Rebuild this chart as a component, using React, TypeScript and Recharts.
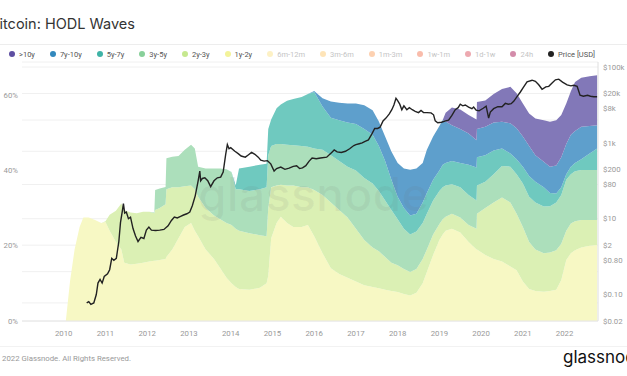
import { ComposedChart, Area, Line, XAxis, YAxis, CartesianGrid } from 'recharts'

// HODL wave sample dates (decimal years) and band shares (% of supply)
const waveDates = [
  2010.05, 2010.15, 2010.26, 2010.38, 2010.47, 2010.6, 2010.75, 2010.9, 2011.0, 2011.1,
  2011.25, 2011.38, 2011.45, 2011.6, 2011.75, 2011.9, 2012.05, 2012.17, 2012.19, 2012.3,
  2012.44, 2012.46, 2012.6, 2012.75, 2012.9, 2013.05, 2013.14, 2013.22, 2013.4, 2013.6,
  2013.75, 2013.9, 2014.02, 2014.12, 2014.2, 2014.45, 2014.7, 2014.86, 2014.9, 2014.97,
  2015.1, 2015.2, 2015.35, 2015.5, 2015.7, 2015.85, 2016.0, 2016.2, 2016.4, 2016.6,
  2016.8, 2017.0, 2017.2, 2017.4, 2017.55, 2017.7, 2017.85, 2018.0, 2018.15, 2018.3,
  2018.45, 2018.6, 2018.7, 2018.85, 2019.0, 2019.08, 2019.15, 2019.3, 2019.5, 2019.7,
  2019.89, 2019.9, 2020.1, 2020.3, 2020.5, 2020.7, 2020.85, 2021.0, 2021.15, 2021.3,
  2021.5, 2021.65, 2021.8, 2021.92, 2022.04, 2022.15, 2022.25, 2022.4, 2022.6, 2022.78,
]
const y1to2 = [
  0, 10.5, 19, 25, 27.5, 27.5, 26.8, 26, 26.3, 24,
  21, 19, 15.5, 15, 15.2, 15.5, 15.8, 16, 16, 16.2,
  16.5, 17, 19, 22, 25, 26, 24, 22.5, 19, 16.5,
  14, 11.5, 10, 9, 8.5, 8.3, 8.8, 10, 12, 22,
  26, 27.7, 26, 25, 25, 25.5, 22.5, 18, 14, 12.5,
  11.5, 10.5, 9.5, 9, 8.7, 8.3, 8, 7.7, 7.2, 6.8,
  7.5, 10, 13, 17.5, 21.5, 23, 24, 24.5, 23.5, 21,
  19, 19, 17.5, 16.5, 15.8, 14.5, 13.5, 10.5, 8.5, 8,
  7.8, 8, 8.3, 10.9, 16.2, 18, 18.8, 19.5, 20, 20.2,
]
const y2to3 = [
  0, 0, 0, 0, 0, 0, 0, 0, 0.2, 4.2,
  8.3, 12.2, 14, 13.8, 13.4, 13.5, 13.2, 12.6, 13.5, 13.8,
  14.5, 18, 16.5, 13.5, 10.8, 10, 11, 10.5, 11, 11.5,
  13, 14.5, 15.5, 15.5, 15.5, 15, 14, 12.5, 18, 13.5,
  10, 8.5, 10, 11, 10.5, 10, 12.3, 15.5, 17.5, 17,
  16, 14, 12, 10.5, 9.8, 8.7, 7.5, 7.1, 6.6, 6.2,
  6.3, 6.5, 6, 5.5, 4.3, 4, 3.7, 4, 4, 4.5,
  5.5, 9.5, 12.5, 15, 17, 17, 15, 14.5, 12.5, 11,
  10.2, 10.2, 10.5, 9.6, 7.8, 7.9, 7.7, 7.3, 6.8, 6.6,
]
const y3to5 = [
  0, 0, 0, 0, 0, 0, 0, 0, 0, 0,
  0, 0, 0, 0, 0, 0, 0, 0.2, 5.3, 5.2,
  4.6, 8.2, 8.1, 8.3, 9.7, 10.8, 10.8, 8, 10.5, 12.5,
  13.5, 14.3, 14, 10.5, 11, 11.2, 12.2, 13, 14, 11,
  11, 10.8, 10.8, 10.7, 11, 10.8, 11, 12, 12.5, 13,
  13.5, 15.5, 16.5, 17, 16, 15, 14, 12.2, 10.7, 10,
  10, 9.5, 9.5, 9, 8.7, 8.5, 8.3, 7.8, 8, 8,
  7.5, 7.5, 7, 7.5, 8.4, 9.5, 10.5, 11.5, 12, 12.5,
  12.4, 12.3, 12.7, 13, 13.5, 13.1, 13.3, 13.3, 13.3, 13.3,
]
const y5to7 = [
  0, 0, 0, 0, 0, 0, 0, 0, 0, 0,
  0, 0, 0, 0, 0, 0, 0, 0, 0, 0,
  0, 0, 0, 0, 0, 0, 0, 0, 0, 0,
  0, 0, 0.1, 1, 5.5, 6.5, 6.5, 6.3, 7, 7,
  9.5, 10.5, 11.7, 12.3, 13, 14, 15, 11.5, 10, 10.8,
  11.7, 12.3, 13, 13, 12, 10.5, 8, 6, 5.5, 5,
  4.7, 5.5, 5.5, 5.5, 5.5, 6, 6, 6.2, 6.5, 8,
  8.8, 7.5, 7, 6.3, 4.6, 3.5, 4, 4.5, 5.5, 5.5,
  5.1, 3.5, 2.4, 2, 1.5, 2, 2.2, 2.9, 4.4, 5.7,
]
const y7to10 = [
  0, 0, 0, 0, 0, 0, 0, 0, 0, 0,
  0, 0, 0, 0, 0, 0, 0, 0, 0, 0,
  0, 0, 0, 0, 0, 0, 0, 0, 0, 0,
  0, 0, 0, 0, 0, 0, 0, 0, 0, 0,
  0, 0, 0, 0, 0, 0, 0.3, 2.2, 4.3, 4.7,
  5.1, 5.5, 6.3, 6.5, 6.5, 6.5, 7.5, 9, 10.5, 12.2,
  12, 10.5, 11.5, 11.5, 11.8, 11.9, 11, 9.5, 9, 8.3,
  7.2, 7.5, 7.6, 7.4, 7.1, 8, 8.2, 8, 8, 7,
  6.8, 7, 7.4, 8, 8, 8.5, 8.5, 8.6, 7.3, 6.2,
]
const over10 = [
  0, 0, 0, 0, 0, 0, 0, 0, 0, 0,
  0, 0, 0, 0, 0, 0, 0, 0, 0, 0,
  0, 0, 0, 0, 0, 0, 0, 0, 0, 0,
  0, 0, 0, 0, 0, 0, 0, 0, 0, 0,
  0, 0, 0, 0, 0, 0, 0, 0, 0, 0,
  0, 0, 0, 0, 0, 0, 0, 0, 0, 0,
  0, 0, 0, 0, 0, 0, 2.3, 4.7, 5.2, 4.9,
  5.5, 7.2, 7, 7.6, 8.7, 9.7, 9.3, 8.8, 8.6, 9.8,
  11, 11.9, 12, 11.2, 10.8, 11.5, 13, 13, 13.2, 13.3,
]

// BTC price [USD]
const priceDates = [
  2010.55, 2010.6, 2010.65, 2010.72, 2010.78, 2010.82, 2010.87, 2010.92, 2010.97, 2011.05,
  2011.1, 2011.15, 2011.2, 2011.26, 2011.32, 2011.36, 2011.4, 2011.43, 2011.46, 2011.5,
  2011.55, 2011.6, 2011.66, 2011.72, 2011.78, 2011.85, 2011.92, 2011.98, 2012.04, 2012.1,
  2012.2, 2012.3, 2012.4, 2012.5, 2012.58, 2012.65, 2012.72, 2012.8, 2012.87, 2012.95,
  2013.02, 2013.08, 2013.15, 2013.22, 2013.26, 2013.28, 2013.32, 2013.38, 2013.45, 2013.52,
  2013.6, 2013.68, 2013.76, 2013.82, 2013.88, 2013.92, 2013.96, 2014.0, 2014.1, 2014.18,
  2014.25, 2014.35, 2014.42, 2014.5, 2014.58, 2014.66, 2014.72, 2014.8, 2014.88, 2014.96,
  2015.04, 2015.1, 2015.2, 2015.3, 2015.4, 2015.5, 2015.58, 2015.65, 2015.72, 2015.8,
  2015.88, 2015.95, 2016.05, 2016.15, 2016.3, 2016.42, 2016.48, 2016.55, 2016.65, 2016.75,
  2016.85, 2016.95, 2017.0, 2017.08, 2017.15, 2017.22, 2017.3, 2017.38, 2017.45, 2017.52,
  2017.58, 2017.65, 2017.72, 2017.8, 2017.86, 2017.91, 2017.96, 2018.0, 2018.05, 2018.1,
  2018.15, 2018.22, 2018.28, 2018.35, 2018.42, 2018.5, 2018.56, 2018.62, 2018.7, 2018.8,
  2018.86, 2018.9, 2018.96, 2019.05, 2019.15, 2019.22, 2019.3, 2019.38, 2019.45, 2019.5,
  2019.56, 2019.62, 2019.7, 2019.78, 2019.82, 2019.88, 2019.95, 2020.05, 2020.12, 2020.18,
  2020.22, 2020.3, 2020.4, 2020.5, 2020.58, 2020.65, 2020.72, 2020.78, 2020.86, 2020.94,
  2021.0, 2021.1, 2021.22, 2021.3, 2021.38, 2021.46, 2021.55, 2021.62, 2021.7, 2021.78,
  2021.86, 2021.95, 2022.06, 2022.15, 2022.22, 2022.3, 2022.37, 2022.45, 2022.55, 2022.62,
  2022.7, 2022.78,
]
const priceUsd = [
  0.06, 0.065, 0.055, 0.06, 0.1, 0.2, 0.25, 0.2, 0.3, 0.35,
  0.45, 0.9, 0.8, 0.9, 2.5, 8, 15, 25, 14, 15,
  10, 11, 5.5, 3.5, 2.5, 3.2, 3, 5, 6, 5,
  4.9, 5, 5.2, 6.5, 9, 11, 10.5, 11.5, 12.5, 13.5,
  15, 22, 40, 100, 180, 100, 115, 120, 100, 70,
  100, 120, 125, 170, 500, 900, 700, 750, 600, 520,
  450, 420, 480, 560, 500, 420, 350, 330, 340, 280,
  180, 210, 230, 200, 215, 240, 250, 210, 220, 250,
  330, 400, 380, 400, 420, 560, 650, 580, 560, 600,
  700, 850, 900, 950, 1000, 1100, 1200, 1700, 2400, 2400,
  2600, 3800, 4500, 5800, 7500, 10000, 15000, 13000, 10500, 7500,
  9500, 7500, 8500, 7500, 6800, 6300, 7200, 6300, 6300, 6200,
  5500, 3800, 3400, 3500, 3800, 4000, 5300, 7500, 8500, 10500,
  9500, 10000, 8800, 8000, 8800, 7300, 7000, 8200, 9300, 4500,
  6500, 8000, 9000, 9000, 11000, 10500, 10800, 12500, 16600, 22000,
  28000, 41000, 45000, 42000, 34000, 26000, 30000, 31000, 38000, 46000,
  48000, 40000, 34000, 32000, 33000, 31000, 18000, 17000, 18000, 17000,
  16500, 16500,
]

const yearTicks = [2010, 2011, 2012, 2013, 2014, 2015, 2016, 2017, 2018, 2019, 2020, 2021, 2022]
const pctTicks = [0, 20, 40, 60]
const priceTicks = [0.02, 0.06, 0.1, 0.4, 0.8, 2, 6, 10, 40, 80, 200, 600, 1000, 4000, 8000, 20000, 60000, 100000]

// stacked bottom to top
const bands = [
  { key: 'y1to2', fill: '#f7f8c4' },
  { key: 'y2to3', fill: '#dbf0b4' },
  { key: 'y3to5', fill: '#acdfbb' },
  { key: 'y5to7', fill: '#6fc9bf' },
  { key: 'y7to10', fill: '#5e9fcc' },
  { key: 'over10', fill: '#8278b8' },
]

const legendItems = [
  { name: '>10y', color: '#5e4fa2', on: true },
  { name: '7y-10y', color: '#3288bd', on: true },
  { name: '5y-7y', color: '#3fb3a6', on: true },
  { name: '3y-5y', color: '#88d09a', on: true },
  { name: '2y-3y', color: '#c6e88f', on: true },
  { name: '1y-2y', color: '#f3f39a', on: true },
  { name: '6m-12m', color: '#fbe07f', on: false },
  { name: '3m-6m', color: '#fdc462', on: false },
  { name: '1m-3m', color: '#fb9a52', on: false },
  { name: '1w-1m', color: '#f26a45', on: false },
  { name: '1d-1w', color: '#d8404f', on: false },
  { name: '24h', color: '#9e0142', on: false },
  { name: 'Price [USD]', color: '#222222', on: true },
]

const waveData = waveDates.map((t, i) => ({
  t,
  y1to2: y1to2[i],
  y2to3: y2to3[i],
  y3to5: y3to5[i],
  y5to7: y5to7[i],
  y7to10: y7to10[i],
  over10: over10[i],
}))

const priceData = priceDates.map((t, i) => ({ t, price: priceUsd[i] }))

const fmtPrice = (v: number) => {
  if (v >= 1000) return `$${v / 1000}k`
  if (v < 1) return `$${v.toFixed(2)}`
  return `$${v}`
}

const small = 'Roboto, "Liberation Sans", sans-serif'
const tickStyle = { fill: '#999', fontSize: 7.8, fontFamily: small }

export default function App() {
  return (
    <div
      style={{
        position: 'fixed', left: 0, top: 0, width: 627, height: 376,
        background: '#fff', overflow: 'hidden', fontFamily: 'Inter, "Noto Sans", sans-serif',
      }}
    >
      <div style={{ position: 'absolute', left: -10, top: 15, fontSize: 14.5, color: '#333', whiteSpace: 'nowrap' }}>
        Bitcoin: HODL Waves
      </div>
      <div style={{ position: 'absolute', left: 0, right: 0, top: 44, height: 1, background: '#ededed' }} />

      <div
        style={{
          position: 'absolute', left: 9, top: 48, height: 12, display: 'flex', alignItems: 'center',
          gap: 15, fontSize: 7.5, fontFamily: small, whiteSpace: 'nowrap',
        }}
      >
        {legendItems.map((it) => (
          <div key={it.name} style={{ display: 'flex', alignItems: 'center', gap: 4 }}>
            <span
              style={{
                width: 6, height: 6, borderRadius: 3, background: it.color,
                opacity: it.on ? 1 : 0.45, display: 'inline-block',
              }}
            />
            <span style={{ color: it.on ? '#555' : '#c4c4c4' }}>{it.name}</span>
          </div>
        ))}
      </div>

      <div style={{ position: 'absolute', left: 0, top: 0 }}>
        <ComposedChart width={627} height={345} data={waveData} margin={{ top: 62, right: 0, bottom: 0, left: 0 }}>
          <CartesianGrid yAxisId="price" vertical={false} stroke="#f0f0f0" />
          <XAxis
            dataKey="t"
            type="number"
            domain={[2009.0, 2022.8]}
            allowDataOverflow
            ticks={yearTicks}
            tick={tickStyle}
            tickSize={0}
            tickMargin={9}
            height={24}
            axisLine={{ stroke: '#e6e6e6' }}
          />
          <YAxis
            yAxisId="pct"
            orientation="left"
            domain={[0, 68.8]}
            allowDataOverflow
            ticks={pctTicks}
            tickFormatter={(v) => `${v}%`}
            tick={tickStyle}
            tickSize={0}
            tickMargin={4}
            width={22}
            axisLine={false}
          />
          <YAxis
            yAxisId="price"
            orientation="right"
            scale="log"
            domain={[0.02, 136000]}
            allowDataOverflow
            ticks={priceTicks}
            tickFormatter={fmtPrice}
            tick={tickStyle}
            tickSize={0}
            tickMargin={5}
            width={29}
            axisLine={{ stroke: '#dedede' }}
          />
          {bands.map((b) => (
            <Area
              key={b.key}
              yAxisId="pct"
              dataKey={b.key}
              stackId="hodl"
              type="linear"
              stroke="none"
              fill={b.fill}
              fillOpacity={1}
              isAnimationActive={false}
              activeDot={false}
            />
          ))}
          <Line
            yAxisId="price"
            data={priceData}
            dataKey="price"
            type="linear"
            stroke="#222"
            strokeWidth={1.4}
            dot={false}
            activeDot={false}
            isAnimationActive={false}
          />
        </ComposedChart>
      </div>

      <div
        style={{
          position: 'absolute', left: 198, top: 166, fontSize: 46, fontWeight: 500,
          color: 'rgba(110,110,110,0.09)', pointerEvents: 'none', letterSpacing: 0.5,
        }}
      >
        glassnode
      </div>

      <div style={{ position: 'absolute', left: 0, right: 0, top: 346, height: 1, background: '#f2f2f2' }} />
      <div style={{ position: 'absolute', left: 2, top: 354, fontSize: 7.8, fontFamily: small, color: '#999', whiteSpace: 'nowrap' }}>
        2022 Glassnode. All Rights Reserved.
      </div>
      <div style={{ position: 'absolute', left: 563, top: 347, fontSize: 17, color: '#111', whiteSpace: 'nowrap' }}>
        glassnode
      </div>
    </div>
  )
}
